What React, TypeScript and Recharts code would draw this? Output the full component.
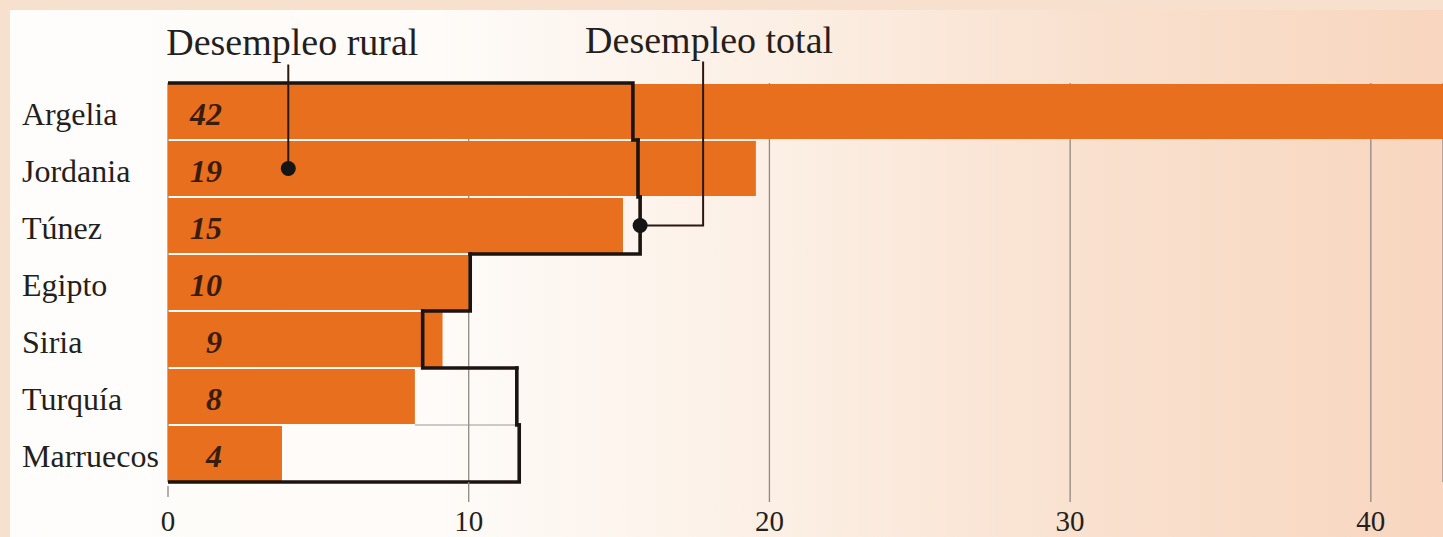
import {
  Bar,
  CartesianGrid,
  ComposedChart,
  LabelList,
  ReferenceDot,
  XAxis,
  YAxis,
} from "recharts";

const countries = [
  "Argelia",
  "Jordania",
  "Túnez",
  "Egipto",
  "Siria",
  "Turquía",
  "Marruecos",
];
// rural unemployment, % (Argelia's bar runs off the right edge)
const ruralUnemployment = [42.4, 19.55, 15.13, 10.0, 9.13, 8.21, 3.79];
const ruralLabels = ["42", "19", "15", "10", "9", "8", "4"];
// total unemployment, %, drawn as a stepped outline
const totalUnemployment = [15.46, 15.63, 15.7, 10.05, 8.47, 11.6, 11.68];
const xTicks = [0, 10, 20, 30, 40];

// where the two callouts point
const ruralCallout = { value: 4, country: "Jordania" };
const totalCallout = { country: "Túnez" };

const data = countries.map((country, i) => ({
  country,
  rural: ruralUnemployment[i],
  label: ruralLabels[i],
  total: totalUnemployment[i],
}));

const FONT = '"Liberation Serif", "DejaVu Serif", serif';
const INK = "#241f1c";
const ORANGE = "#e76f1d";
const OUTLINE = "#1c1411";
const GRID = "#8e8985";

function CountryTick({ y, payload }: any) {
  return (
    <text x={22} y={y} dy="0.42em" fontFamily={FONT} fontSize={32} fill={INK}>
      {payload.value}
    </text>
  );
}

function ValueTick({ x, y, payload }: any) {
  const zero = payload.value === 0;
  return (
    <g>
      <line
        x1={x}
        x2={x}
        y1={zero ? y + 4 : y}
        y2={zero ? y + 15 : y + 20}
        stroke={GRID}
        strokeWidth={1.3}
      />
      <text
        x={x}
        y={y + 39}
        dy="0.35em"
        textAnchor="middle"
        fontFamily={FONT}
        fontSize={29}
        fill={INK}
      >
        {payload.value}
      </text>
    </g>
  );
}

function BarValue({ x, y, height, value }: any) {
  return (
    <text
      x={x + 54}
      y={y + height / 2}
      dy="0.42em"
      textAnchor="end"
      fontFamily={FONT}
      fontSize={32}
      fontWeight="bold"
      fontStyle="italic"
      fill="#3a1c0c"
    >
      {value}
    </text>
  );
}

function TotalOutline({ x, y, width, height, index }: any) {
  const total = totalUnemployment[index];
  const perUnit = width / total;
  const right = x + width;
  const bottom = y + height;
  const last = index === countries.length - 1;
  const ruralEnd = x + perUnit * ruralUnemployment[index];
  let d = `M${right},${y} L${right},${bottom}`;
  if (index === 0) d = `M${x},${y} L${right},${y} L${right},${bottom}`;
  if (last) d += ` L${x},${bottom}`;
  else d += ` L${x + perUnit * totalUnemployment[index + 1]},${bottom}`;
  return (
    <g>
      {!last && ruralEnd < right && (
        <line
          x1={ruralEnd}
          x2={right}
          y1={bottom}
          y2={bottom}
          stroke="#9c9792"
          strokeWidth={1.2}
        />
      )}
      <path
        d={d}
        fill="none"
        stroke={OUTLINE}
        strokeWidth={3.6}
        strokeLinecap="square"
        strokeLinejoin="miter"
      />
    </g>
  );
}

function RuralCallout({ cx, cy }: any) {
  return (
    <g>
      <line x1={cx} x2={cx} y1={cy} y2={cy - 104} stroke="#2a1812" strokeWidth={2} />
      <circle cx={cx} cy={cy} r={7.5} fill="#151515" />
      <text
        x={cx + 4}
        y={cy - 114}
        textAnchor="middle"
        fontFamily={FONT}
        fontSize={38}
        fill={INK}
      >
        Desempleo rural
      </text>
    </g>
  );
}

function TotalCalloutDot({ cx, cy }: any) {
  const elbow = cx + 63;
  return (
    <g>
      <polyline
        points={`${cx},${cy} ${elbow},${cy} ${elbow},${cy - 164}`}
        fill="none"
        stroke="#2a1812"
        strokeWidth={2}
      />
      <circle cx={cx} cy={cy} r={7.5} fill="#151515" />
      <text
        x={elbow + 6}
        y={cy - 173}
        textAnchor="middle"
        fontFamily={FONT}
        fontSize={38}
        fill={INK}
      >
        Desempleo total
      </text>
    </g>
  );
}

export default function App() {
  const totalIdx = countries.indexOf(totalCallout.country);
  return (
    <div
      style={{
        position: "absolute",
        left: 0,
        top: 0,
        width: 1443,
        height: 537,
        overflow: "hidden",
        background: "#f8e0cf",
      }}
    >
      <div
        style={{
          position: "absolute",
          left: 10,
          top: 10,
          right: 0,
          bottom: 0,
          background:
            "linear-gradient(to right, #fefdfb 0%, #fefbf8 30%, #fcf0e6 52%, #f9e1cf 75%, #f8d6bf 100%)",
        }}
      />
      <div style={{ position: "absolute", left: 0, top: 0 }}>
        <ComposedChart
          width={1443}
          height={537}
          layout="vertical"
          data={data}
          margin={{ top: 83, right: 0, bottom: 0, left: 0 }}
          barCategoryGap={0}
        >
          <CartesianGrid horizontal={false} stroke={GRID} strokeWidth={1.3} />
          <XAxis
            type="number"
            domain={[0, 42.4]}
            ticks={xTicks}
            allowDataOverflow
            axisLine={false}
            tickLine={false}
            tickSize={0}
            tickMargin={0}
            height={55}
            tick={<ValueTick />}
          />
          <YAxis
            type="category"
            dataKey="country"
            width={168}
            axisLine={false}
            tickLine={false}
            tick={<CountryTick />}
          />
          <YAxis type="category" dataKey="country" yAxisId="total" hide />
          <Bar dataKey="rural" fill={ORANGE} barSize={55} isAnimationActive={false}>
            <LabelList dataKey="label" content={<BarValue />} />
          </Bar>
          <Bar
            dataKey="total"
            yAxisId="total"
            shape={<TotalOutline />}
            isAnimationActive={false}
          />
          <ReferenceDot
            x={ruralCallout.value}
            y={ruralCallout.country}
            r={7.5}
            shape={<RuralCallout />}
          />
          <ReferenceDot
            x={totalUnemployment[totalIdx]}
            y={totalCallout.country}
            r={7.5}
            shape={<TotalCalloutDot />}
          />
        </ComposedChart>
      </div>
    </div>
  );
}
